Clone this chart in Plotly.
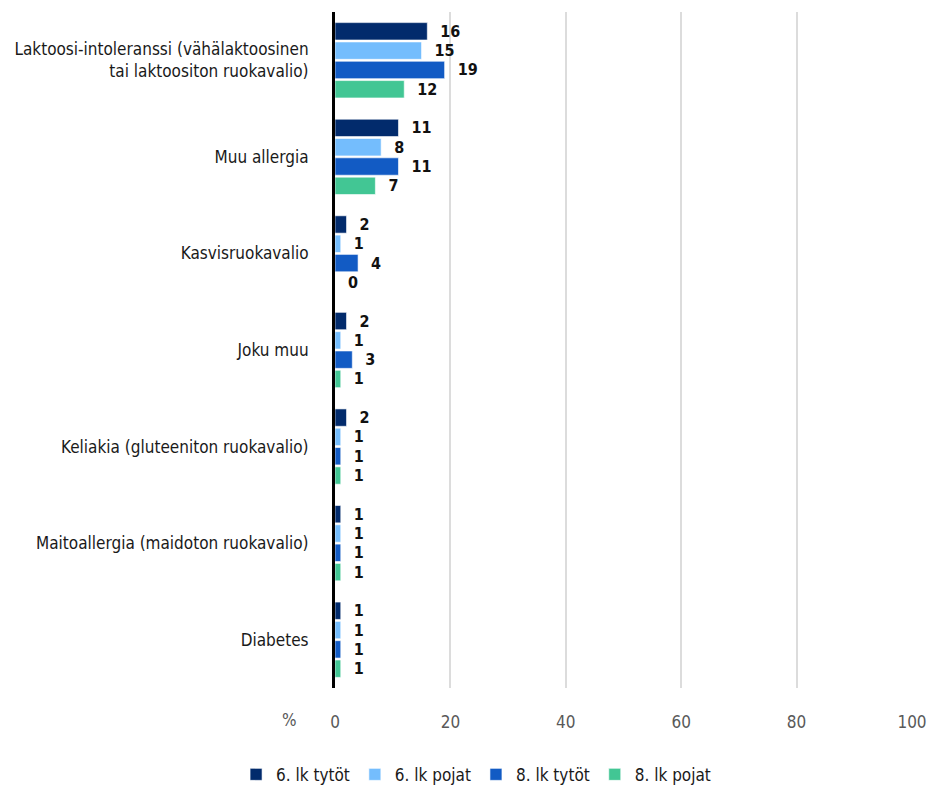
import plotly.graph_objects as go

categories = [
    "Laktoosi-intoleranssi (vähälaktoosinen<br>tai laktoositon ruokavalio)",
    "Muu allergia",
    "Kasvisruokavalio",
    "Joku muu",
    "Keliakia (gluteeniton ruokavalio)",
    "Maitoallergia (maidoton ruokavalio)",
    "Diabetes",
]
series_names = ["6. lk tytöt", "6. lk pojat", "8. lk tytöt", "8. lk pojat"]
g6_tytot = [16, 11, 2, 2, 2, 1, 1]
g6_pojat = [15, 8, 1, 1, 1, 1, 1]
g8_tytot = [19, 11, 4, 3, 1, 1, 1]
g8_pojat = [12, 7, 0, 1, 1, 1, 1]
x_ticks = [0, 20, 40, 60, 80, 100]

colors = ["#022b6c", "#74bdfd", "#125bc4", "#42c694"]
FONT = "DejaVu Sans Condensed, Roboto, sans-serif"

fig = go.Figure()
for name, vals, col in zip(series_names, [g6_tytot, g6_pojat, g8_tytot, g8_pojat], colors):
    fig.add_trace(go.Bar(
        y=categories, x=vals, name=name, orientation="h",
        marker=dict(color=col, line=dict(color="rgba(255,255,255,0.6)", width=1)),
        text=["\u00a0\u00a0" + str(v) for v in vals], textposition="outside",
        textfont=dict(family=FONT, size=16, color="#111111", weight="bold"),
        cliponaxis=False,
    ))

fig.update_layout(
    width=928, height=789,
    margin=dict(l=335, r=16, t=12, b=101, autoexpand=False),
    paper_bgcolor="white", plot_bgcolor="white",
    barmode="group", bargap=0.2, bargroupgap=0.1,
    font=dict(family=FONT, size=17, color="#1a1a1a"),
    xaxis=dict(range=[0, 100], tickvals=x_ticks, showgrid=True, gridcolor="#dcdcdc",
               gridwidth=2, zeroline=False, ticks="", ticklen=0, automargin=False,
               ticklabelstandoff=22,
               tickfont=dict(size=17, color="#595959"), showline=False),
    yaxis=dict(autorange="reversed", showline=True, linecolor="black", linewidth=3,
               ticks="", ticklabelstandoff=20, automargin=False,
               tickfont=dict(size=17, color="#1a1a1a"),
               showgrid=False),
    legend=dict(orientation="h", xref="container", x=0.513, xanchor="center",
                yref="container", y=0.018, yanchor="middle",
                font=dict(size=17, color="#1a1a1a"), itemwidth=30, traceorder="normal"),
    uniformtext=dict(minsize=16, mode="show"),
    showlegend=True,
)
fig.add_annotation(text="%", xref="paper", yref="paper", x=-0.078, y=-0.048,
                   showarrow=False, font=dict(size=17, color="#595959"),
                   xanchor="center", yanchor="middle")

fig.write_html("out.html")
